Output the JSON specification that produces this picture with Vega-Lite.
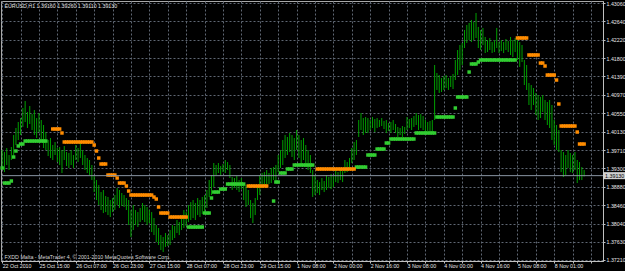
{
"$schema": "https://vega.github.io/schema/vega-lite/v6.json",
"width": 602, "height": 260,
"autosize": {"type": "none"},
"padding": {"left": 1, "top": 1, "right": 22, "bottom": 10},
"background": "#000000",
"config": {"view": {"stroke": "#a8a8a8", "strokeWidth": 1}, "font": "Liberation Sans"},
"datasets": {
"bars": [
{"i":0,"h":1.39714,"l":1.39304,"g":1.39304},
{"i":1,"h":1.39668,"l":1.39212,"g":1.38962},
{"i":2,"h":1.39759,"l":1.39372,"g":1.38962},
{"i":3,"h":1.39600,"l":1.39258,"g":1.38962},
{"i":4,"h":1.39782,"l":1.39486,"g":1.39008},
{"i":5,"h":1.40055,"l":1.39555,"g":1.39554},
{"i":6,"h":1.40215,"l":1.39827,"g":1.39691},
{"i":7,"h":1.40351,"l":1.39941,"g":1.39805},
{"i":8,"h":1.40442,"l":1.40055,"g":1.39850},
{"i":9,"h":1.40670,"l":1.40238,"g":1.39850},
{"i":10,"h":1.40829,"l":1.40351,"g":1.39918},
{"i":11,"h":1.40578,"l":1.40215,"g":1.39918},
{"i":12,"h":1.40715,"l":1.40306,"g":1.39918},
{"i":13,"h":1.40533,"l":1.40169,"g":1.39918},
{"i":14,"h":1.40624,"l":1.40055,"g":1.39918},
{"i":15,"h":1.40442,"l":1.39987,"g":1.39918},
{"i":16,"h":1.40556,"l":1.40123,"g":1.39918},
{"i":17,"h":1.40397,"l":1.39941,"g":1.39918},
{"i":18,"h":1.40283,"l":1.39759,"g":1.39918},
{"i":19,"h":1.40123,"l":1.39714,"g":1.39918},
{"i":20,"h":1.39941,"l":1.39577},
{"i":21,"h":1.39987,"l":1.39532},
{"i":22,"h":1.39827,"l":1.39486,"o":1.40192},
{"i":23,"h":1.39895,"l":1.39600,"o":1.40192},
{"i":24,"h":1.39759,"l":1.39440,"o":1.40192},
{"i":25,"h":1.39782,"l":1.39372,"o":1.40192},
{"i":26,"h":1.39714,"l":1.39190,"o":1.40101},
{"i":27,"h":1.39804,"l":1.39486,"o":1.39896},
{"i":28,"h":1.39668,"l":1.39349,"o":1.39896},
{"i":29,"h":1.39646,"l":1.39304,"o":1.39896},
{"i":30,"h":1.39714,"l":1.39372,"o":1.39896},
{"i":31,"h":1.39600,"l":1.39304,"o":1.39896},
{"i":32,"h":1.39827,"l":1.39486,"o":1.39896},
{"i":33,"h":1.39759,"l":1.39440,"o":1.39896},
{"i":34,"h":1.39873,"l":1.39532,"o":1.39896},
{"i":35,"h":1.39714,"l":1.39372,"o":1.39896},
{"i":36,"h":1.39600,"l":1.39258,"o":1.39896},
{"i":37,"h":1.39532,"l":1.39190,"o":1.39896},
{"i":38,"h":1.39486,"l":1.39144,"o":1.39896},
{"i":39,"h":1.39372,"l":1.39030,"o":1.39896},
{"i":40,"h":1.39144,"l":1.38757,"o":1.39827},
{"i":41,"h":1.39030,"l":1.38575,"o":1.39691},
{"i":42,"h":1.38916,"l":1.38461,"o":1.39531},
{"i":43,"h":1.38757,"l":1.38347,"o":1.39395},
{"i":44,"h":1.38803,"l":1.38279,"o":1.39395},
{"i":45,"h":1.38666,"l":1.38301,"o":1.39395},
{"i":46,"h":1.38644,"l":1.38233,"o":1.39144},
{"i":47,"h":1.38575,"l":1.38188,"o":1.39144},
{"i":48,"h":1.38621,"l":1.38301,"o":1.39144},
{"i":49,"h":1.38689,"l":1.38347,"o":1.39144},
{"i":50,"h":1.38848,"l":1.38461,"o":1.39076},
{"i":51,"h":1.38803,"l":1.38393,"o":1.38962},
{"i":52,"h":1.38735,"l":1.38438,"o":1.38962},
{"i":53,"h":1.38689,"l":1.38416,"o":1.38962},
{"i":54,"h":1.38621,"l":1.38347,"o":1.38894},
{"i":55,"h":1.38575,"l":1.38006,"o":1.38780},
{"i":56,"h":1.38347,"l":1.37733,"o":1.38689},
{"i":57,"h":1.38461,"l":1.37892,"o":1.38689},
{"i":58,"h":1.38347,"l":1.38006,"o":1.38689},
{"i":59,"h":1.38301,"l":1.37961,"o":1.38689},
{"i":60,"h":1.38393,"l":1.38074,"o":1.38689},
{"i":61,"h":1.38507,"l":1.38120,"o":1.38689},
{"i":62,"h":1.38461,"l":1.38074,"o":1.38689},
{"i":63,"h":1.38416,"l":1.38006,"o":1.38689},
{"i":64,"h":1.38347,"l":1.38052,"o":1.38689},
{"i":65,"h":1.38301,"l":1.37846,"o":1.38689},
{"i":66,"h":1.38165,"l":1.37778,"o":1.38643},
{"i":67,"h":1.38006,"l":1.37618,"o":1.38598},
{"i":68,"h":1.37938,"l":1.37550,"o":1.38416},
{"i":69,"h":1.37778,"l":1.37437,"o":1.38279},
{"i":70,"h":1.37733,"l":1.37391,"o":1.38279},
{"i":71,"h":1.37824,"l":1.37505,"o":1.38279},
{"i":72,"h":1.37778,"l":1.37527,"o":1.38279},
{"i":73,"h":1.37892,"l":1.37550,"o":1.38188},
{"i":74,"h":1.38006,"l":1.37664,"o":1.38188},
{"i":75,"h":1.37983,"l":1.37710,"o":1.38188},
{"i":76,"h":1.38120,"l":1.37824,"o":1.38188},
{"i":77,"h":1.38074,"l":1.37778,"o":1.38188},
{"i":78,"h":1.38233,"l":1.37892,"o":1.38188},
{"i":79,"h":1.38347,"l":1.37938,"o":1.38188},
{"i":80,"h":1.38301,"l":1.37983,"o":1.38188},
{"i":81,"h":1.38461,"l":1.38074,"g":1.37960},
{"i":82,"h":1.38529,"l":1.38120,"g":1.37960},
{"i":83,"h":1.38575,"l":1.38165,"g":1.37960},
{"i":84,"h":1.38507,"l":1.38120,"g":1.37960},
{"i":85,"h":1.38621,"l":1.38233,"g":1.37960},
{"i":86,"h":1.38575,"l":1.38188,"g":1.37960},
{"i":87,"h":1.38644,"l":1.38256,"g":1.37960},
{"i":88,"h":1.38689,"l":1.38301,"g":1.38279},
{"i":89,"h":1.38803,"l":1.38393,"g":1.38279},
{"i":90,"h":1.39030,"l":1.38644,"g":1.38279},
{"i":91,"h":1.39144,"l":1.38689,"g":1.38621},
{"i":92,"h":1.39418,"l":1.38871,"g":1.38757},
{"i":93,"h":1.39372,"l":1.39144,"g":1.38757},
{"i":94,"h":1.39418,"l":1.39190,"g":1.38757},
{"i":95,"h":1.39349,"l":1.39121,"g":1.38825},
{"i":96,"h":1.39395,"l":1.39212,"g":1.38825},
{"i":97,"h":1.39486,"l":1.39190,"g":1.38825},
{"i":98,"h":1.39440,"l":1.39258,"g":1.38939},
{"i":99,"h":1.39372,"l":1.39076,"g":1.38939},
{"i":100,"h":1.39099,"l":1.38803,"g":1.38939},
{"i":101,"h":1.39076,"l":1.38848,"g":1.38939},
{"i":102,"h":1.39121,"l":1.38803,"g":1.38939},
{"i":103,"h":1.39030,"l":1.38757,"g":1.38939},
{"i":104,"h":1.39076,"l":1.38825,"g":1.38939},
{"i":105,"h":1.38962,"l":1.38575,"g":1.38939},
{"i":106,"h":1.38916,"l":1.38416},
{"i":107,"h":1.38803,"l":1.38461,"o":1.38894},
{"i":108,"h":1.38575,"l":1.38165,"o":1.38894},
{"i":109,"h":1.38507,"l":1.38052,"o":1.38894},
{"i":110,"h":1.38621,"l":1.38233,"o":1.38894},
{"i":111,"h":1.38916,"l":1.38575,"o":1.38894},
{"i":112,"h":1.39144,"l":1.38689,"o":1.38894},
{"i":113,"h":1.39190,"l":1.38848,"o":1.38894},
{"i":114,"h":1.39212,"l":1.38871,"o":1.38894},
{"i":115,"h":1.39258,"l":1.38916,"o":1.38894},
{"i":116,"h":1.39190,"l":1.38939},
{"i":117,"h":1.39304,"l":1.38962},
{"i":118,"h":1.39327,"l":1.39030,"g":1.38552},
{"i":119,"h":1.39372,"l":1.38984,"g":1.38985},
{"i":120,"h":1.39600,"l":1.39212,"g":1.38985},
{"i":121,"h":1.39714,"l":1.39304,"g":1.39190},
{"i":122,"h":1.39941,"l":1.39372,"g":1.39190},
{"i":123,"h":1.40055,"l":1.39532,"g":1.39190},
{"i":124,"h":1.40010,"l":1.39600,"g":1.39281},
{"i":125,"h":1.40101,"l":1.39668,"g":1.39281},
{"i":126,"h":1.40055,"l":1.39555,"g":1.39281},
{"i":127,"h":1.39987,"l":1.39486,"g":1.39372},
{"i":128,"h":1.40169,"l":1.39714,"g":1.39372},
{"i":129,"h":1.40055,"l":1.39532,"g":1.39372},
{"i":130,"h":1.39941,"l":1.39372,"g":1.39372},
{"i":131,"h":1.39987,"l":1.39486,"g":1.39372},
{"i":132,"h":1.39827,"l":1.39327,"g":1.39372},
{"i":133,"h":1.39714,"l":1.39258,"g":1.39372},
{"i":134,"h":1.39600,"l":1.39190,"g":1.39372},
{"i":135,"h":1.39258,"l":1.38644,"g":1.39372},
{"i":136,"h":1.39144,"l":1.38689},
{"i":137,"h":1.39030,"l":1.38735,"o":1.39281},
{"i":138,"h":1.38984,"l":1.38689,"o":1.39281},
{"i":139,"h":1.39076,"l":1.38803,"o":1.39281},
{"i":140,"h":1.39007,"l":1.38757,"o":1.39281},
{"i":141,"h":1.39144,"l":1.38803,"o":1.39281},
{"i":142,"h":1.39099,"l":1.38848,"o":1.39281},
{"i":143,"h":1.39167,"l":1.38825,"o":1.39281},
{"i":144,"h":1.39121,"l":1.38871,"o":1.39281},
{"i":145,"h":1.39258,"l":1.38984,"o":1.39281},
{"i":146,"h":1.39212,"l":1.38962,"o":1.39281},
{"i":147,"h":1.39304,"l":1.39030,"o":1.39281},
{"i":148,"h":1.39235,"l":1.38984,"o":1.39281},
{"i":149,"h":1.39486,"l":1.39190,"o":1.39281},
{"i":150,"h":1.39440,"l":1.39212,"o":1.39281},
{"i":151,"h":1.39532,"l":1.39258,"o":1.39281},
{"i":152,"h":1.39759,"l":1.39418,"o":1.39281},
{"i":153,"h":1.39895,"l":1.39486,"o":1.39281},
{"i":154,"h":1.39941,"l":1.39600,"g":1.39326},
{"i":155,"h":1.40397,"l":1.40010,"g":1.39326},
{"i":156,"h":1.40556,"l":1.40169,"g":1.39326},
{"i":157,"h":1.40442,"l":1.40055,"g":1.39326},
{"i":158,"h":1.40465,"l":1.40101,"g":1.39326},
{"i":159,"h":1.40442,"l":1.40101,"g":1.39600},
{"i":160,"h":1.40397,"l":1.40169,"g":1.39600},
{"i":161,"h":1.40465,"l":1.40215,"g":1.39600},
{"i":162,"h":1.40419,"l":1.40123,"g":1.39600},
{"i":163,"h":1.40442,"l":1.40215,"g":1.39736},
{"i":164,"h":1.40397,"l":1.40238,"g":1.39736},
{"i":165,"h":1.40442,"l":1.40260,"g":1.39736},
{"i":166,"h":1.40374,"l":1.40192,"g":1.39736},
{"i":167,"h":1.40397,"l":1.40101,"g":1.39873},
{"i":168,"h":1.40329,"l":1.40146,"g":1.39873},
{"i":169,"h":1.40351,"l":1.40101,"g":1.39964},
{"i":170,"h":1.40397,"l":1.40169,"g":1.39964},
{"i":171,"h":1.40306,"l":1.40101,"g":1.39964},
{"i":172,"h":1.40238,"l":1.40010,"g":1.39964},
{"i":173,"h":1.40215,"l":1.40055,"g":1.39964},
{"i":174,"h":1.40260,"l":1.40010,"g":1.39964},
{"i":175,"h":1.40238,"l":1.40078,"g":1.39964},
{"i":176,"h":1.40465,"l":1.40169,"g":1.39964},
{"i":177,"h":1.40419,"l":1.40215,"g":1.39964},
{"i":178,"h":1.40442,"l":1.40169,"g":1.39964},
{"i":179,"h":1.40487,"l":1.40238,"g":1.39964},
{"i":180,"h":1.40556,"l":1.40283,"g":1.40101},
{"i":181,"h":1.40510,"l":1.40169,"g":1.40101},
{"i":182,"h":1.40533,"l":1.40215,"g":1.40101},
{"i":183,"h":1.40487,"l":1.40169,"g":1.40101},
{"i":184,"h":1.40397,"l":1.40101,"g":1.40101},
{"i":185,"h":1.40351,"l":1.40146,"g":1.40101},
{"i":186,"h":1.40374,"l":1.40101,"g":1.40101},
{"i":187,"h":1.40397,"l":1.40123,"g":1.40101},
{"i":188,"h":1.41649,"l":1.40397,"g":1.40101},
{"i":189,"h":1.41467,"l":1.41080,"g":1.40465},
{"i":190,"h":1.41421,"l":1.41012,"g":1.40465},
{"i":191,"h":1.41353,"l":1.41034,"g":1.40465},
{"i":192,"h":1.41398,"l":1.41080,"g":1.40465},
{"i":193,"h":1.41421,"l":1.41125,"g":1.40465},
{"i":194,"h":1.41353,"l":1.41080,"g":1.40465},
{"i":195,"h":1.41398,"l":1.41148,"g":1.40465},
{"i":196,"h":1.41444,"l":1.41102,"g":1.40465},
{"i":197,"h":1.41763,"l":1.41307,"g":1.40670},
{"i":198,"h":1.41990,"l":1.41421,"g":1.40920},
{"i":199,"h":1.42104,"l":1.41535,"g":1.40920},
{"i":200,"h":1.42150,"l":1.41649,"g":1.40920},
{"i":201,"h":1.42446,"l":1.42036,"g":1.40920},
{"i":202,"h":1.42560,"l":1.42150,"g":1.40920},
{"i":203,"h":1.42606,"l":1.42218,"g":1.41489},
{"i":204,"h":1.42674,"l":1.42172,"g":1.41672},
{"i":205,"h":1.42628,"l":1.42218,"g":1.41672},
{"i":206,"h":1.42833,"l":1.42264,"g":1.41672},
{"i":207,"h":1.42515,"l":1.42036,"g":1.41717},
{"i":208,"h":1.42446,"l":1.41990,"g":1.41763},
{"i":209,"h":1.42492,"l":1.42104,"g":1.41763},
{"i":210,"h":1.42287,"l":1.41922,"g":1.41763},
{"i":211,"h":1.42218,"l":1.41944,"g":1.41763},
{"i":212,"h":1.42264,"l":1.41990,"g":1.41763},
{"i":213,"h":1.42172,"l":1.41922,"g":1.41763},
{"i":214,"h":1.42218,"l":1.41944,"g":1.41763},
{"i":215,"h":1.42492,"l":1.42036,"g":1.41763},
{"i":216,"h":1.42172,"l":1.41922,"g":1.41763},
{"i":217,"h":1.42218,"l":1.41967,"g":1.41763},
{"i":218,"h":1.42172,"l":1.41922,"g":1.41763},
{"i":219,"h":1.42241,"l":1.41990,"g":1.41763},
{"i":220,"h":1.42195,"l":1.41944,"g":1.41763},
{"i":221,"h":1.42287,"l":1.41876,"g":1.41763},
{"i":222,"h":1.42218,"l":1.41831,"g":1.41763},
{"i":223,"h":1.42264,"l":1.41944,"g":1.41763},
{"i":224,"h":1.42218,"l":1.41763,"o":1.42264},
{"i":225,"h":1.42172,"l":1.41604,"o":1.42264},
{"i":226,"h":1.42104,"l":1.41717,"o":1.42264},
{"i":227,"h":1.41763,"l":1.41193,"o":1.42264},
{"i":228,"h":1.41649,"l":1.41080,"o":1.42264},
{"i":229,"h":1.41239,"l":1.40738,"o":1.41877},
{"i":230,"h":1.41193,"l":1.40624,"o":1.41877},
{"i":231,"h":1.41125,"l":1.40738,"o":1.41877},
{"i":232,"h":1.41012,"l":1.40510,"o":1.41877},
{"i":233,"h":1.40966,"l":1.40397,"o":1.41877},
{"i":234,"h":1.40921,"l":1.40442,"o":1.41694},
{"i":235,"h":1.40966,"l":1.40578,"o":1.41694},
{"i":236,"h":1.40852,"l":1.40397,"o":1.41626},
{"i":237,"h":1.40806,"l":1.40283,"o":1.41421},
{"i":238,"h":1.40852,"l":1.40215,"o":1.41421},
{"i":239,"h":1.40738,"l":1.39941,"o":1.41421},
{"i":240,"h":1.40397,"l":1.39827,"o":1.41421},
{"i":241,"h":1.40283,"l":1.39714,"o":1.41307},
{"i":242,"h":1.40169,"l":1.39668,"o":1.40761},
{"i":243,"h":1.39714,"l":1.39212,"o":1.40260},
{"i":244,"h":1.39668,"l":1.39099,"o":1.40260},
{"i":245,"h":1.39600,"l":1.39144,"o":1.40260},
{"i":246,"h":1.39714,"l":1.39304,"o":1.40260},
{"i":247,"h":1.39646,"l":1.39212,"o":1.40260},
{"i":248,"h":1.39600,"l":1.39190,"o":1.40260},
{"i":249,"h":1.39668,"l":1.39258,"o":1.40260},
{"i":250,"h":1.39486,"l":1.38962,"o":1.40123},
{"i":251,"h":1.39440,"l":1.39030,"o":1.39850},
{"i":252,"h":1.39327,"l":1.39030,"o":1.39850},
{"i":253,"h":1.39260,"l":1.39110,"o":1.39850}
],
"bid": [{"p": 1.3913, "t": "1.39130"}]
},
"layer": [
{"data": {"name": "bars"},
 "mark": {"type": "rule", "color": "#00a000", "strokeWidth": 1},
 "encoding": {
  "x": {"field": "i", "type": "quantitative",
   "scale": {"domain": [-0.5, 261.2], "nice": false, "zero": false},
   "axis": {"values": [0,8,16,24,32,40,48,56,64,72,80,88,96,104,112,120,128,136,144,152,160,168,176,184,192,200,208,216,224,232,240,248,256],
    "tickCount": 100,
    "labelExpr": "datum.value % 16 == 0 ? ['22 Oct 2010','25 Oct 15:00','26 Oct 07:00','26 Oct 23:00','27 Oct 15:00','28 Oct 07:00','28 Oct 23:00','29 Oct 15:00','1 Nov 08:00','2 Nov 00:00','2 Nov 16:00','3 Nov 08:00','4 Nov 00:00','4 Nov 16:00','5 Nov 08:00','8 Nov 01:00','',''][datum.value / 16] : ''",
    "labelAlign": "left", "labelBaseline": "top", "labelPadding": 0.5, "labelOverlap": false, "labelBound": false, "labelFlush": false,
    "labelColor": "#e6e6e6", "labelFontSize": 5.3, "labelFont": "Liberation Sans",
    "tickSize": 2, "tickColor": "#c0c0c0",
    "domainColor": "#c0c0c0",
    "grid": true, "gridColor": "#5f6773", "gridDash": [2, 2], "gridWidth": 1,
    "title": "FXDD Malta - MetaTrader 4, © 2001-2010 MetaQuotes Software Corp.",
    "titleX": 3, "titleY": -2, "titleAngle": 0, "titleAlign": "left", "titleBaseline": "bottom", "titleFontSize": 5.3, "titleFontWeight": "normal", "titleColor": "#d8d8d8", "titleFont": "Liberation Sans"}},
  "y": {"field": "h", "type": "quantitative",
   "scale": {"domain": [1.37187, 1.43106], "nice": false, "zero": false},
   "axis": {"orient": "right", "values": [1.3721,1.3763,1.3804,1.3846,1.3888,1.393,1.3971,1.4013,1.4055,1.4097,1.4139,1.418,1.4222,1.4264,1.4306],
    "tickCount": 100,
    "format": ".5f", "labelAlign": "left", "labelBaseline": "middle", "labelPadding": 1, "labelFontSize": 5.3, "labelFont": "Liberation Sans",
    "labelColor": "#e6e6e6", "tickSize": 2, "tickColor": "#c0c0c0", "domainColor": "#c0c0c0",
    "grid": true, "gridColor": "#5f6773", "gridDash": [2, 2], "gridWidth": 1,
    "labelOverlap": false, "labelBound": false, "labelFlush": false,
    "title": "EURUSD,H1  1.39160 1.39260 1.39110 1.39130",
    "titleX": -599, "titleY": 2.5, "titleAngle": 0, "titleAlign": "left", "titleBaseline": "top", "titleFontSize": 5.3, "titleFontWeight": "normal", "titleColor": "#e6e6e6", "titleFont": "Liberation Sans"}},
  "y2": {"field": "l"}}},
{"data": {"name": "bars"},
 "transform": [{"filter": "isValid(datum.g)"}],
 "mark": {"type": "point", "shape": "square", "filled": true, "size": 12, "color": "#32cd32", "opacity": 1},
 "encoding": {"x": {"field": "i", "type": "quantitative"}, "y": {"field": "g", "type": "quantitative"}}},
{"data": {"name": "bars"},
 "transform": [{"filter": "isValid(datum.o)"}],
 "mark": {"type": "point", "shape": "square", "filled": true, "size": 12, "color": "#ff8c00", "opacity": 1},
 "encoding": {"x": {"field": "i", "type": "quantitative"}, "y": {"field": "o", "type": "quantitative"}}},
{"data": {"name": "bid"},
 "mark": {"type": "rule", "color": "#8a96a4", "strokeWidth": 1},
 "encoding": {"y": {"field": "p", "type": "quantitative"}}},
{"data": {"name": "bid"},
 "mark": {"type": "point", "shape": "M-1,-0.32L1,-0.32L1,0.32L-1,0.32Z", "filled": true, "size": 484, "color": "#d0d0d0", "opacity": 1},
 "encoding": {"x": {"datum": 266}, "y": {"field": "p", "type": "quantitative"}}},
{"data": {"name": "bid"},
 "mark": {"type": "text", "align": "left", "baseline": "middle", "fontSize": 5.3, "font": "Liberation Sans", "color": "#000000"},
 "encoding": {"x": {"datum": 262.1}, "y": {"field": "p", "type": "quantitative"}, "text": {"field": "t"}}}
]
}
